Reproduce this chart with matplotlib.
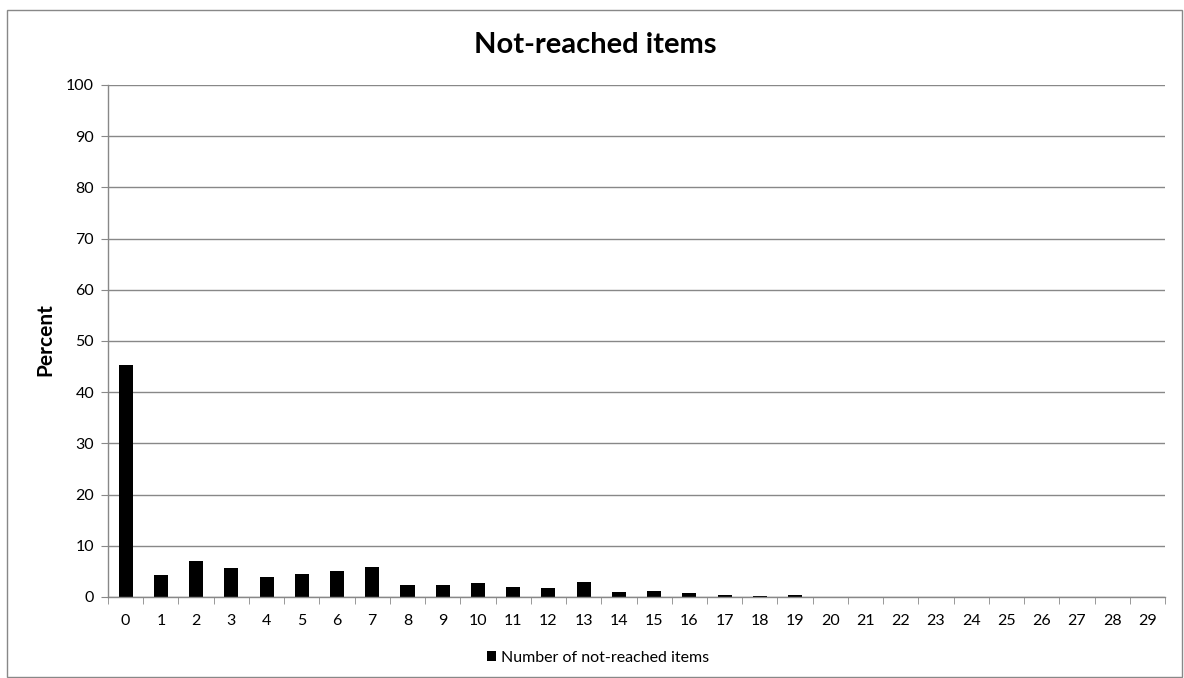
import matplotlib
matplotlib.use("Agg")
import matplotlib.pyplot as plt
from matplotlib.patches import Rectangle

categories = [str(i) for i in range(30)]
percent = [45.3, 4.2, 7.1, 5.75, 4.0, 4.45, 5.0, 5.9, 2.3, 2.4,
           2.7, 2.0, 1.7, 2.9, 1.0, 1.15, 0.7, 0.45, 0.15, 0.3,
           0.05, 0.02, 0.05, 0.0, 0.02, 0.0, 0.0, 0.0, 0.0, 0.0]
yticks = list(range(0, 101, 10))

plt.rcParams['font.family'] = ['Lato', 'DejaVu Sans']

fig = plt.figure(figsize=(11.84, 6.78), dpi=100)
ax = fig.add_axes([108/1184, 1-597/678, (1165-108)/1184, (597-85)/678])

x = list(range(len(categories)))
ax.bar(x, percent, width=0.4, color='black', zorder=3,
       label='Number of not-reached items')

ax.set_xlim(-0.5, len(categories) - 0.5)
ax.set_ylim(0, 100)
ax.set_yticks(yticks)
ax.set_yticklabels([str(t) for t in yticks], fontsize=11.5)
ax.set_xticks(x)
ax.set_xticklabels(categories, fontsize=11.5)
ax.set_xticks([i - 0.5 for i in range(len(categories) + 1)], minor=True)
ax.tick_params(axis='x', which='major', length=0, pad=12)
ax.tick_params(axis='x', which='minor', length=5, color='#888888', direction='out')
ax.tick_params(axis='y', length=5, color='#888888', direction='out', pad=5)

ax.grid(axis='y', color='#888888', linewidth=1, zorder=0)
for s in ['top', 'right']:
    ax.spines[s].set_visible(False)
for s in ['left', 'bottom']:
    ax.spines[s].set_color('#888888')
    ax.spines[s].set_linewidth(1)
ax.spines['bottom'].set_zorder(4)

fig.text(595/1184, 1-45/678, 'Not-reached items', fontsize=21, fontweight='bold',
         ha='center', va='center')
fig.text(45/1184, 1-340/678, 'Percent', fontsize=15, fontweight='bold',
         ha='center', va='center', rotation=90)

leg = fig.legend(loc='center', bbox_to_anchor=(598/1184, 1-658/678), frameon=False,
                 fontsize=11.5, handlelength=0.6, handleheight=0.6, handletextpad=0.3)

fig.patches.append(Rectangle((7/1184, 1/678), 1175/1184, 1-10/678 - 1/678,
                             transform=fig.transFigure, fill=False,
                             edgecolor='#888888', linewidth=1))

fig.savefig('out.png', dpi=100)
